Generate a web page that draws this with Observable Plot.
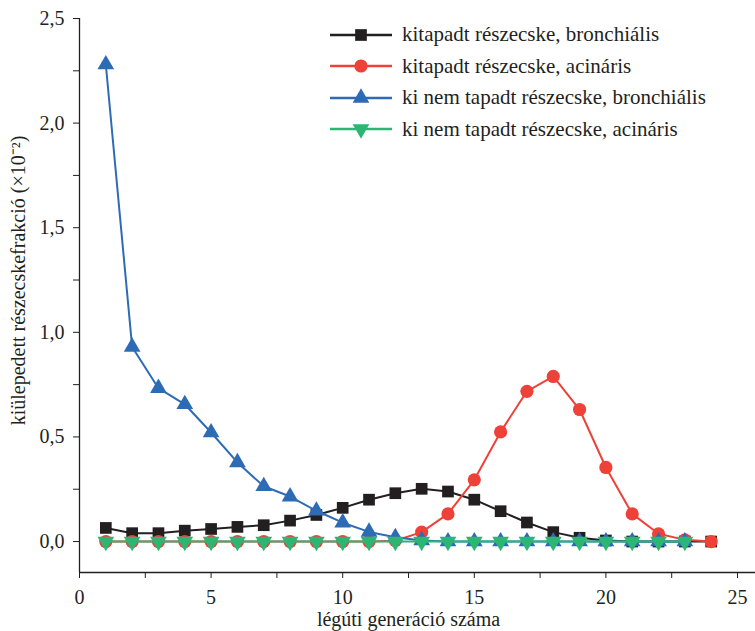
<!DOCTYPE html>
<html><head><meta charset="utf-8">
<script src="https://cdn.jsdelivr.net/npm/d3@7"></script>
<script src="https://cdn.jsdelivr.net/npm/@observablehq/plot@0.6"></script>
</head><body style="margin:0;background:#fff">
<style>
html body #wrap, html body #wrap *, html body #wrap svg text, html body #wrap span { font-family: "Liberation Serif", "Tinos", "Times New Roman", serif !important; }
</style>
<div id="wrap" style="position:relative;width:755px;height:631px;color:#231f20"><div id="chart"></div><div id="legend" style="position:absolute;left:330px;top:19px"></div></div>
<script>
// légúti generáció (x)
const gen24 = [1,2,3,4,5,6,7,8,9,10,11,12,13,14,15,16,17,18,19,20,21,22,23,24];
const gen23 = [1,2,3,4,5,6,7,8,9,10,11,12,13,14,15,16,17,18,19,20,21,22,23];
// series values (×10^-2)
const kitapadtBronchialis = [0.065,0.04,0.04,0.052,0.06,0.07,0.078,0.10,0.127,0.161,0.20,0.231,0.252,0.239,0.20,0.145,0.091,0.045,0.018,0.005,0,0,0,0];
const kitapadtAcinaris = [0,0,0,0,0,0,0,0,0,0,0,0.004,0.045,0.132,0.295,0.524,0.718,0.789,0.631,0.354,0.132,0.037,0.008,0];
const kiNemTapadtBronchialis = [2.28,0.93,0.733,0.656,0.521,0.378,0.264,0.215,0.147,0.09,0.046,0.02,0.005,0,0,0,0,0,0,0,0,0,0];
const kiNemTapadtAcinaris = [0,0,0,0,0,0,0,0,0,0,0,0,0,0,0,0,0,0,0,0,0,0,0];
// tick values
const xTicks = [0,2.5,5,7.5,10,12.5,15,17.5,20,22.5,25];
const yTicks = [0,0.25,0.5,0.75,1,1.25,1.5,1.75,2,2.25,2.5];
const seriesNames = ["kitapadt részecske, bronchiális","kitapadt részecske, acináris","ki nem tapadt részecske, bronchiális","ki nem tapadt részecske, acináris"];

const triangleDown = {
  draw(context, size) {
    const s3 = Math.sqrt(3);
    const y = -Math.sqrt(size / (s3 * 3));
    context.moveTo(0, -y * 2);
    context.lineTo(-s3 * y, y);
    context.lineTo(s3 * y, y);
    context.closePath();
  }
};

const series = [
  {name: seriesNames[0], color: "#231f20", symbol: "square", r: 6.6, xs: gen24, ys: kitapadtBronchialis},
  {name: seriesNames[1], color: "#ee4138", symbol: "circle", r: 6.6, xs: gen24, ys: kitapadtAcinaris},
  {name: seriesNames[2], color: "#2e6bb5", symbol: "triangle", r: 6.2, xs: gen23, ys: kiNemTapadtBronchialis},
  {name: seriesNames[3], color: "#2db573", symbol: triangleDown, r: 6.2, xs: gen23, ys: kiNemTapadtAcinaris}
];

const xMax = 25.684, yMin = -0.148;
const ink = "#231f20";
const fontFam = "Liberation Serif";
const fmtY = d => (Math.abs(d * 2 - Math.round(d * 2)) < 1e-9) ? d.toFixed(1).replace(".", ",") : "";
const fmtX = d => (d % 5 === 0) ? String(d) : "";

const marks = [
  Plot.axisY({ticks: yTicks, tickSize: 6, tickPadding: 9, tickFormat: fmtY, fontSize: 20, fontFamily: fontFam, label: null, stroke: ink, fill: ink}),
  Plot.axisX({ticks: xTicks, tickSize: 6, tickPadding: 11, tickFormat: fmtX, fontSize: 20, fontFamily: fontFam, label: null, stroke: ink, fill: ink}),
  Plot.ruleX([0], {y1: yMin, y2: 2.5, stroke: ink, strokeWidth: 1.3}),
  Plot.ruleY([yMin], {x1: 0, x2: xMax, stroke: ink, strokeWidth: 1.3}),
  Plot.text(["légúti generáció száma"], {frameAnchor: "bottom", textAnchor: "middle", lineAnchor: "middle", dx: -9, dy: 47, fontSize: 20, fontFamily: fontFam, fill: ink}),
  Plot.text(["kiülepedett részecskefrakció (×10⁻²)"], {frameAnchor: "left", textAnchor: "middle", lineAnchor: "middle", rotate: -90, dx: -61, dy: -15, fontSize: 20, fontFamily: fontFam, fill: ink})
];
for (const s of series) {
  const data = s.xs.map((x, i) => ({x, y: s.ys[i]}));
  marks.push(Plot.line(data, {x: "x", y: "y", stroke: s.color, strokeWidth: 2}));
  marks.push(Plot.dot(data, {x: "x", y: "y", symbol: () => s.symbol, fill: s.color, r: s.r, stroke: "none"}));
}

const chart = Plot.plot({
  width: 755, height: 631,
  marginLeft: 79, marginRight: 0, marginTop: 18, marginBottom: 59,
  style: {fontFamily: fontFam, background: "#fff", color: ink},
  x: {domain: [0, xMax]},
  y: {domain: [yMin, 2.5]},
  symbol: {type: "identity"},
  marks
});
document.getElementById("chart").appendChild(chart);

const legend = document.getElementById("legend");
for (const s of series) {
  const row = document.createElement("div");
  row.style.cssText = "display:flex;align-items:center;height:31.5px;font-size:21px;white-space:nowrap";
  const sym = d3.create("svg").attr("width", 62).attr("height", 20).style("margin-right", "10px");
  sym.append("line").attr("x1", 0).attr("x2", 62).attr("y1", 10).attr("y2", 10).attr("stroke", s.color).attr("stroke-width", 2.4);
  const type = s.symbol === "square" ? d3.symbolSquare : s.symbol === "circle" ? d3.symbolCircle : s.symbol === "triangle" ? d3.symbolTriangle : s.symbol;
  sym.append("path").attr("d", d3.symbol(type, Math.PI * s.r * s.r)()).attr("transform", "translate(31,10)").attr("fill", s.color);
  row.appendChild(sym.node());
  const t = document.createElement("span");
  t.textContent = s.name;
  row.appendChild(t);
  legend.appendChild(row);
}
</script></body></html>
